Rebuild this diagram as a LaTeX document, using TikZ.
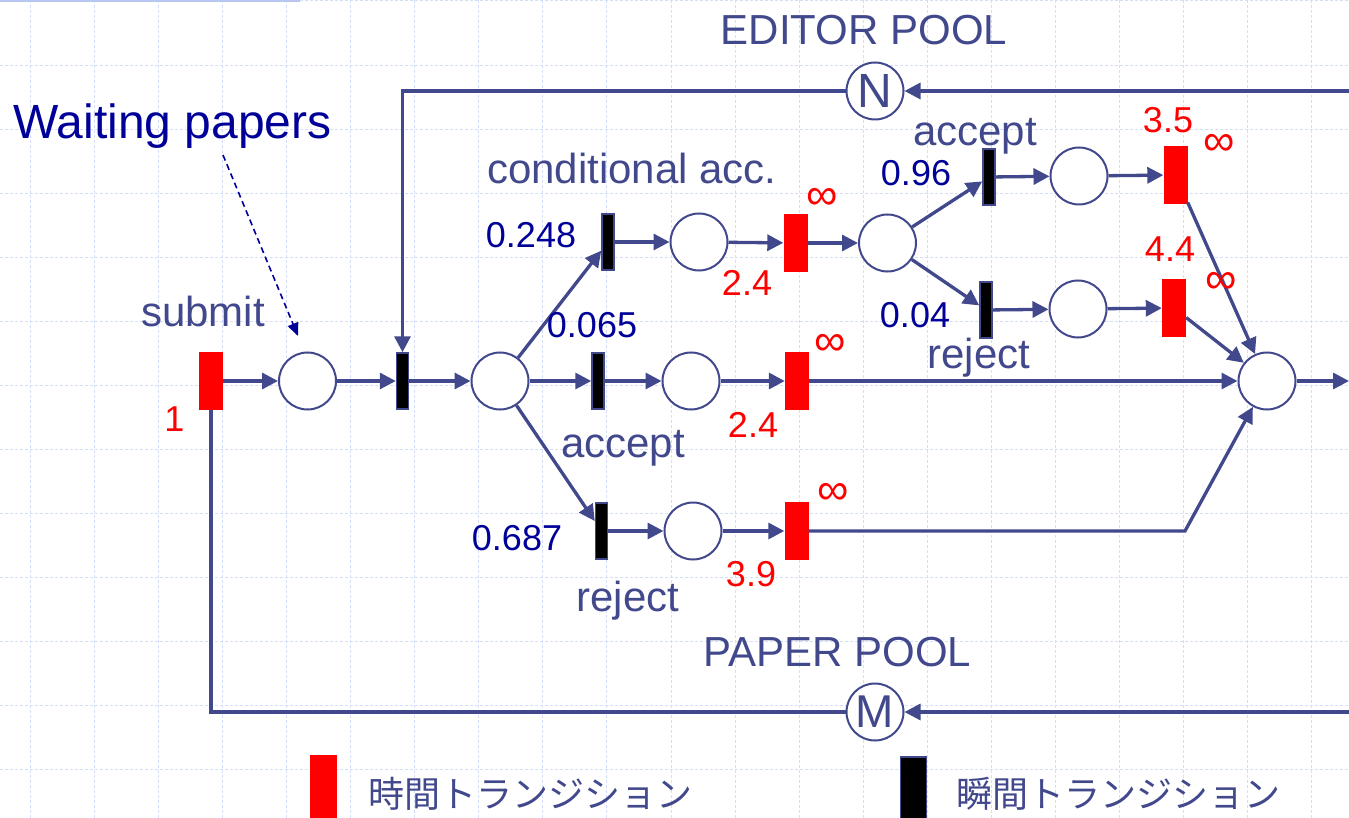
\documentclass[tikz,border=0pt]{standalone}
\usepackage{fontspec}
\setmainfont{Liberation Sans}
\newfontfamily\cjk{Noto Sans CJK JP}
\usetikzlibrary{arrows.meta}
\definecolor{slate}{RGB}{66,72,140}
\definecolor{navy}{RGB}{0,0,153}
\definecolor{gridc}{RGB}{212,222,248}
\definecolor{pred}{RGB}{255,0,0}
\begin{document}
\begin{tikzpicture}[x=1pt,y=-1pt,
 place/.style={circle,draw=slate,line width=2pt,minimum size=57pt,inner sep=0pt,fill=white},
 ttrans/.style={rectangle,fill=pred,minimum width=24pt,minimum height=58pt,inner sep=0pt},
 itrans/.style={rectangle,fill=black,draw=slate,line width=1.5pt,minimum width=12pt,minimum height=56pt,inner sep=0pt},
 arc/.style={draw=slate,line width=3.3pt,-{Triangle[length=16pt,width=16pt]}},
 plain/.style={draw=slate,line width=3.3pt},
 lbl/.style={text=slate,font=\fontsize{42}{48}\selectfont,inner sep=0pt},
 prob/.style={text=navy,font=\fontsize{36}{40}\selectfont,inner sep=0pt},
 rate/.style={text=pred,font=\fontsize{36}{40}\selectfont,inner sep=0pt},
 inf/.style={text=pred,font=\fontsize{44}{48}\selectfont,inner sep=0pt},
 gridline/.style={draw=gridc,line width=1pt,dash pattern=on 3pt off 2pt}]
\useasboundingbox (0,0) rectangle (1349,818);
\fill[white] (0,0) rectangle (1349,818);
% grid
\foreach \i in {0,...,20} \draw[gridline] ({30.5+64.05*\i},0) -- ({30.5+64.05*\i},818);
\foreach \j in {0,...,12} \draw[gridline] (0,{1+64.05*\j}) -- (1349,{1+64.05*\j});
\draw[draw={rgb,255:red,185;green,198;blue,240},line width=1.5pt] (0,1) -- (300,1);

% places
\node[place] (P1) at (307.5,381) {};
\node[place] (P2) at (500,381) {};
\node[place] (Pc) at (699,242) {};
\node[place] (Pa) at (691,381) {};
\node[place] (Pr) at (693,531) {};
\node[place] (P3) at (887.5,243) {};
\node[place] (Pa2) at (1079,176) {};
\node[place] (Pr2) at (1078,309) {};
\node[place] (Pe) at (1267,381) {};
\node[place,font=\fontsize{48}{48}\selectfont,text=slate] (N) at (875,91) {N};
\node[place,font=\fontsize{46}{48}\selectfont,text=slate] (M) at (875,712) {M};

% transitions
\node[ttrans] (T1) at (211,381) {};
\node[itrans] (T2) at (402.5,381) {};
\node[itrans] (Tc) at (608,242) {};
\node[itrans] (Ta) at (598,381) {};
\node[itrans] (Tr) at (601.5,531) {};
\node[ttrans] (Rc) at (795.5,243) {};
\node[ttrans] (Ra) at (797,381) {};
\node[ttrans] (Rr) at (796.5,531) {};
\node[itrans] (Ta2) at (989,177) {};
\node[itrans] (Tr2) at (986,310) {};
\node[ttrans] (Ra2) at (1175.5,175) {};
\node[ttrans] (Rr2) at (1174,308) {};

% helper coordinates
\coordinate (eR) at (1349,91);
\coordinate (eC) at (402.5,91);
\coordinate (pR) at (1349,712);
\coordinate (pC) at (211,712);
\coordinate (oR) at (1349,381);
\coordinate (bend) at (1185,531);
\coordinate (wpS) at (223,155);
\coordinate (wpE) at (298,336);

% arcs
\draw[arc] (T1) -- (P1);
\draw[arc] (P1) -- (T2);
\draw[arc] (T2) -- (P2);
\draw[arc] (P2) -- (Tc);
\draw[arc] (P2) -- (Ta);
\draw[arc] (P2) -- (Tr);
\draw[arc] (Tc) -- (Pc);
\draw[arc] (Pc) -- (Rc);
\draw[arc] (Rc) -- (P3);
\draw[arc] (P3) -- (Ta2);
\draw[arc] (P3) -- (Tr2);
\draw[arc] (Ta2) -- (Pa2);
\draw[arc] (Pa2) -- (Ra2);
\draw[arc] (Tr2) -- (Pr2);
\draw[arc] (Pr2) -- (Rr2);
\draw[arc] (Ra2) -- (Pe);
\draw[arc] (Rr2) -- (Pe);
\draw[arc] (Ta) -- (Pa);
\draw[arc] (Pa) -- (Ra);
\draw[arc] (Ra) -- (Pe);
\draw[arc] (Tr) -- (Pr);
\draw[arc] (Pr) -- (Rr);
\draw[arc] (Rr) -- (bend) -- (Pe);
\draw[arc] (Pe) -- (oR);
\draw[arc] (eR) -- (N);
\draw[arc] (N) -- (eC) -- (T2);
\draw[arc] (pR) -- (M);
\draw[plain] (M) -- (pC) -- (T1);

% Waiting papers
\node[text=navy,font=\fontsize{48}{52}\selectfont,inner sep=0pt] (wp) at (172.5,126) {Waiting papers};
\draw[navy,line width=1.6pt,dash pattern=on 6pt off 4pt,-{Triangle[length=13pt,width=11pt]}] (wpS) -- (wpE);

% labels
\node[lbl] (lsub) at (203,311.5) {submit};
\node[rate] (l1) at (174.5,419) {1};
\node[lbl] (led) at (864,30) {EDITOR POOL};
\node[lbl] (lpp) at (837.5,652.5) {PAPER POOL};
\node[lbl] (lca) at (632,168) {conditional acc.};
\node[lbl] (lacc) at (623,448.5) {accept};
\node[lbl] (lrej) at (628,601) {reject};
\node[lbl] (lacc2) at (975,136.5) {accept};
\node[lbl] (lrej2) at (979,358) {reject};
\node[prob] (p1) at (531,235) {0.248};
\node[prob] (p2) at (592,325) {0.065};
\node[prob] (p3) at (517,538) {0.687};
\node[prob] (p4) at (916,173) {0.96};
\node[prob] (p5) at (915,315.5) {0.04};
\node[rate] (r1) at (747,282.5) {2.4};
\node[rate] (r2) at (753,425) {2.4};
\node[rate] (r3) at (751,574) {3.9};
\node[rate] (r4) at (1168,120.5) {3.5};
\node[rate] (r5) at (1170,249.5) {4.4};
\node[inf] (i1) at (822,199) {∞};
\node[inf] (i2) at (830.5,344.5) {∞};
\node[inf] (i3) at (833,494) {∞};
\node[inf] (i4) at (1219.5,144.5) {∞};
\node[inf] (i5) at (1221.5,283) {∞};

% legend
\node[ttrans,minimum width=27pt,minimum height=63pt,anchor=north] (lgT) at (323.5,755) {};
\node[itrans,minimum width=26pt,minimum height=62pt,anchor=north] (lgI) at (913.5,756) {};
\node[text=slate,font=\cjk\fontsize{36}{40}\selectfont,inner sep=0pt] (lgt1) at (530,794) {時間トランジション};
\node[text=slate,font=\cjk\fontsize{36}{40}\selectfont,inner sep=0pt] (lgt2) at (1118,794) {瞬間トランジション};
\end{tikzpicture}
\end{document}
